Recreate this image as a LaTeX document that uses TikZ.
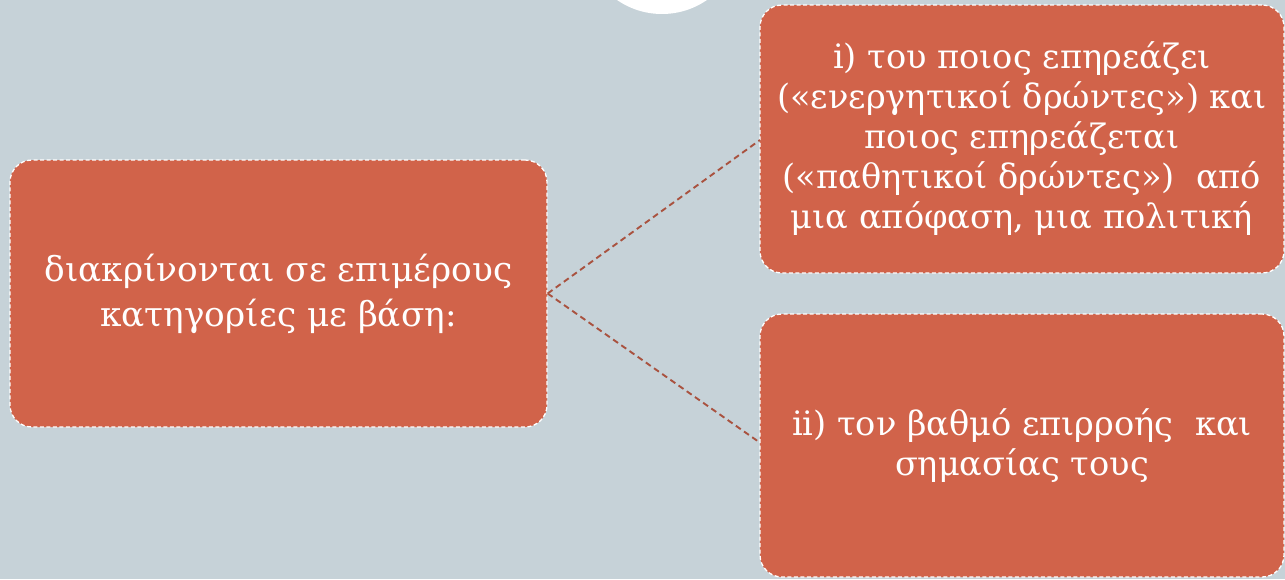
\documentclass[tikz,border=0pt]{standalone}
\usepackage{fontspec}
\setmainfont{DejaVu Serif}
\definecolor{bgc}{HTML}{C6D2D8}
\definecolor{boxc}{HTML}{D1634A}
\definecolor{linec}{HTML}{A9523F}
\begin{document}
\begin{tikzpicture}[x=1pt,y=-1pt,
  card/.style={draw=white,fill=boxc,dash pattern=on 4pt off 2.5pt,line width=1.3pt,
    rounded corners=22pt,text=white,align=center,inner sep=0pt,
    font=\fontsize{33.6}{40}\selectfont},
  link/.style={draw=linec,line width=1.9pt,dash pattern=on 6pt off 4pt}]
\useasboundingbox (0,0) rectangle (1285,579);
\fill[bgc] (0,0) rectangle (1285,579);
\fill[white] (662,-65) circle (79);
\node[card,minimum width=537pt,minimum height=267pt,
  font=\fontsize{34.3}{45}\selectfont] (l) at (278.5,293.5)
  {διακρίνονται σε επιμέρους\\κατηγορίες με βάση:};
\node[card,minimum width=524pt,minimum height=268pt] (t) at (1022,139)
  {i) του ποιος επηρεάζει\\(«ενεργητικοί δρώντες») και\\ποιος επηρεάζεται\\(«παθητικοί δρώντες»)~~από\\μια απόφαση, μια πολιτική};
\node[card,minimum width=524pt,minimum height=263pt] (b) at (1022,445.5)
  {ii) τον βαθμό επιρροής~~και\\σημασίας τους};
\coordinate (te) at (760,140);
\coordinate (be) at (759,442);
\draw[link] (l.east) -- (te);
\draw[link] (l.east) -- (be);
\end{tikzpicture}
\end{document}
